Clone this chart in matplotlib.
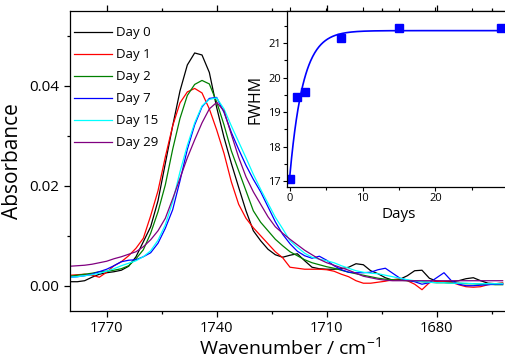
import numpy as np
import matplotlib
matplotlib.use('Agg')
import matplotlib.pyplot as plt
from matplotlib.ticker import MultipleLocator

plt.rcParams['font.family'] = ['Open Sans', 'DejaVu Sans']
plt.rcParams['mathtext.fontset'] = 'custom'
plt.rcParams['mathtext.rm'] = 'Open Sans'

# wavenumber grid (cm-1), shared by all spectra
wn = np.arange(1780, 1661, -2)

day0 = [0.0008, 0.0008, 0.0010, 0.0017, 0.0023, 0.0026, 0.0028, 0.0031, 0.0039, 0.0058,
        0.0088, 0.0118, 0.0170, 0.0245, 0.0320, 0.0390, 0.0442, 0.0466, 0.0462, 0.0427,
        0.0357, 0.0297, 0.0245, 0.0197, 0.0150, 0.0110, 0.0090, 0.0073, 0.0062, 0.0057,
        0.0061, 0.0064, 0.0050, 0.0037, 0.0034, 0.0033, 0.0033, 0.0034, 0.0037, 0.0044,
        0.0042, 0.0030, 0.0024, 0.0016, 0.0011, 0.0013, 0.0020, 0.0030, 0.0031, 0.0015,
        0.0009, 0.0008, 0.0008, 0.0010, 0.0014, 0.0016, 0.0010, 0.0005, 0.0004, 0.0005]
day1 = [0.0021, 0.0022, 0.0023, 0.0021, 0.0017, 0.0027, 0.0040, 0.0048, 0.0060, 0.0075,
        0.0095, 0.0140, 0.0190, 0.0258, 0.0320, 0.0366, 0.0388, 0.0395, 0.0386, 0.0354,
        0.0312, 0.0265, 0.0208, 0.0163, 0.0135, 0.0116, 0.0100, 0.0084, 0.0068, 0.0056,
        0.0037, 0.0035, 0.0033, 0.0033, 0.0033, 0.0032, 0.0029, 0.0023, 0.0018, 0.0010,
        0.0005, 0.0005, 0.0007, 0.0009, 0.0012, 0.0014, 0.0010, 0.0003, -0.0008, 0.0006,
        0.0009, 0.0008, 0.0007, 0.0002, -0.0002, -0.0003, -0.0002, 0.0002, 0.0004, 0.0005]
day2 = [0.0019, 0.0021, 0.0023, 0.0025, 0.0028, 0.0029, 0.0031, 0.0034, 0.0040, 0.0054,
        0.0072, 0.0105, 0.0148, 0.0202, 0.0273, 0.0335, 0.0381, 0.0403, 0.0411, 0.0404,
        0.0368, 0.0322, 0.0270, 0.0230, 0.0190, 0.0150, 0.0127, 0.0110, 0.0093, 0.0080,
        0.0068, 0.0060, 0.0052, 0.0046, 0.0042, 0.0038, 0.0035, 0.0031, 0.0027, 0.0024,
        0.0021, 0.0018, 0.0015, 0.0013, 0.0012, 0.0011, 0.0010, 0.0009, 0.0008, 0.0007,
        0.0006, 0.0006, 0.0005, 0.0005, 0.0004, 0.0004, 0.0003, 0.0003, 0.0002, 0.0002]
day7 = [0.0017, 0.0018, 0.0020, 0.0023, 0.0028, 0.0033, 0.0040, 0.0048, 0.0051, 0.0052,
        0.0058, 0.0066, 0.0085, 0.0115, 0.0152, 0.0210, 0.0273, 0.0322, 0.0358, 0.0375,
        0.0377, 0.0347, 0.0307, 0.0273, 0.0241, 0.0213, 0.0188, 0.0158, 0.0128, 0.0103,
        0.0084, 0.0069, 0.0060, 0.0055, 0.0059, 0.0051, 0.0040, 0.0032, 0.0027, 0.0026,
        0.0026, 0.0027, 0.0032, 0.0035, 0.0025, 0.0015, 0.0011, 0.0008, 0.0003, 0.0006,
        0.0016, 0.0026, 0.0010, 0.0003, 0.0000, 0.0000, 0.0001, 0.0002, 0.0003, 0.0003]
day15 = [0.0017, 0.0018, 0.0020, 0.0022, 0.0025, 0.0029, 0.0034, 0.0040, 0.0045, 0.0050,
         0.0058, 0.0070, 0.0091, 0.0122, 0.0168, 0.0228, 0.0281, 0.0326, 0.0360, 0.0373,
         0.0376, 0.0354, 0.0320, 0.0288, 0.0256, 0.0223, 0.0193, 0.0165, 0.0137, 0.0114,
         0.0090, 0.0077, 0.0065, 0.0057, 0.0053, 0.0050, 0.0046, 0.0040, 0.0035, 0.0030,
         0.0027, 0.0025, 0.0024, 0.0021, 0.0018, 0.0015, 0.0012, 0.0010, 0.0008, 0.0007,
         0.0006, 0.0006, 0.0005, 0.0005, 0.0005, 0.0004, 0.0004, 0.0004, 0.0004, 0.0004]
day29 = [0.0039, 0.0040, 0.0041, 0.0043, 0.0046, 0.0049, 0.0054, 0.0058, 0.0063, 0.0068,
         0.0078, 0.0092, 0.0110, 0.0135, 0.0174, 0.0215, 0.0256, 0.0292, 0.0326, 0.0354,
         0.0367, 0.0350, 0.0303, 0.0257, 0.0218, 0.0188, 0.0163, 0.0138, 0.0118, 0.0105,
         0.0093, 0.0082, 0.0071, 0.0062, 0.0053, 0.0046, 0.0041, 0.0036, 0.0031, 0.0025,
         0.0019, 0.0016, 0.0013, 0.0011, 0.0010, 0.0010, 0.0010, 0.0010, 0.0010, 0.0010,
         0.0010, 0.0010, 0.0010, 0.0010, 0.0010, 0.0010, 0.0010, 0.0010, 0.0010, 0.0010]

spectra = [day0, day1, day2, day7, day15, day29]
labels = ['Day 0', 'Day 1', 'Day 2', 'Day 7', 'Day 15', 'Day 29']
colors = ['black', '#ff0000', '#008000', '#0000ff', '#00ffff', '#800080']

# inset: FWHM vs time
days = [0, 1, 2, 7, 15, 29]
fwhm = [17.05, 19.45, 19.57, 21.15, 21.45, 21.45]

fig = plt.figure(figsize=(5.05, 3.6), dpi=100)
ax = fig.add_axes([0.1386, 0.137, 0.8713, 0.8324])

for y, lab, c in zip(spectra, labels, colors):
    ax.plot(wn, y, color=c, lw=0.9, label=lab)

ax.set_xlim(1780, 1660)
ax.set_ylim(-0.005, 0.055)
ax.set_xticks([1770, 1740, 1710, 1680])
ax.xaxis.set_minor_locator(MultipleLocator(15))
ax.set_yticks([0.0, 0.02, 0.04])
ax.yaxis.set_minor_locator(MultipleLocator(0.01))
ax.yaxis.set_major_formatter(plt.FuncFormatter(lambda v, p: f'{v:.2f}'))
ax.tick_params(which='both', direction='out', width=0.9, labelsize=10.5)
ax.tick_params(axis='y', labelsize=11)
ax.tick_params(which='major', length=4)
ax.tick_params(which='minor', length=2.5)
ax.tick_params(axis='x', which='both', top=True)
for sp in ax.spines.values():
    sp.set_linewidth(0.9)
ax.set_xlabel('Wavenumber / cm$^{-1}$', fontsize=14, labelpad=0)
ax.set_ylabel('Absorbance', fontsize=15, labelpad=5)

ax.legend(loc='upper left', frameon=False, fontsize=9.5, handlelength=2.9,
          handletextpad=0.3, labelspacing=0.68, borderaxespad=0.2,
          bbox_to_anchor=(-0.01, 0.975))

# inset axes
ins = fig.add_axes([0.5683, 0.4806, 0.4416, 0.4888])
ins.plot(days, fwhm, 's', color='#0000ff', ms=5.5)

# exponential fit y = a - b*exp(-t/tau), tau by grid search
t = np.array(days, float)
f = np.array(fwhm)
best = None
for tau in np.linspace(0.3, 10, 2000):
    X = np.column_stack([np.ones_like(t), -np.exp(-t / tau)])
    coef, res, _, _ = np.linalg.lstsq(X, f, rcond=None)
    err = np.sum((X @ coef - f) ** 2)
    if best is None or err < best[0]:
        best = (err, tau, coef)
_, tau, (a, b) = best
tt = np.linspace(0, 29, 400)
ins.plot(tt, a - b * np.exp(-tt / tau), color='#0000ff', lw=1.2)

ins.set_xlim(-0.41, 30.26)
ins.set_ylim(16.83, 21.93)
ins.set_xticks([0, 10, 20])
ins.xaxis.set_minor_locator(MultipleLocator(5))
ins.set_yticks([17, 18, 19, 20, 21])
ins.yaxis.set_minor_locator(MultipleLocator(0.5))
ins.tick_params(which='both', direction='out', width=0.8, labelsize=8, pad=1.5)
ins.tick_params(which='major', length=3)
ins.tick_params(which='minor', length=2)
ins.tick_params(axis='x', which='both', top=True)
for sp in ins.spines.values():
    sp.set_linewidth(0.9)
ins.set_xlabel('Days', fontsize=11, labelpad=2)
ins.set_ylabel('FWHM', fontsize=11.5, labelpad=3)

fig.savefig('out.png', dpi=100)
